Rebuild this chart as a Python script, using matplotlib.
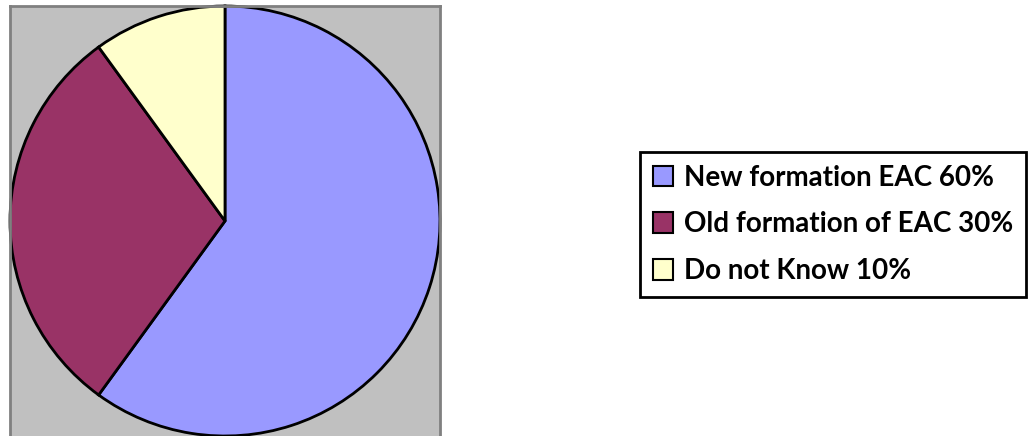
import matplotlib.pyplot as plt
from matplotlib.patches import Patch

labels = ["New formation EAC 60%", "Old formation of EAC 30%", "Do not Know 10%"]
shares = [60, 30, 10]
colors = ["#9999FF", "#993366", "#FFFFCC"]

W, H = 1034, 436
fig = plt.figure(figsize=(W / 100, H / 100), dpi=100)

# gray plot area: pixels x 10..440, top at 6, runs off the bottom
ax = fig.add_axes([10 / W, -6 / H, 430 / W, 436 / H])
ax.pie(shares, colors=colors, startangle=90, counterclock=False,
       wedgeprops=dict(edgecolor="black", linewidth=2))
ax.set_aspect("auto")
ax.set_xlim(-1, 1)
ax.set_ylim(1 - 436 / 215, 1)
ax.set_frame_on(True)
ax.set_facecolor("#C0C0C0")
for s in ax.spines.values():
    s.set_color("#808080")
    s.set_linewidth(2)
ax.set_xticks([])
ax.set_yticks([])

handles = [Patch(facecolor=c, edgecolor="black", linewidth=1.5) for c in colors]
leg = fig.legend(handles, labels, loc="upper left",
                 bbox_to_anchor=(640 / W, 1 - 152 / H), borderaxespad=0,
                 prop=dict(family="Lato", weight="bold", size=20),
                 fancybox=False, framealpha=1, edgecolor="black",
                 handlelength=0.75, handleheight=0.75, handletextpad=0.4,
                 borderpad=0.45, labelspacing=0.75)
leg.get_frame().set_linewidth(2)

fig.savefig("out.png", dpi=100)
